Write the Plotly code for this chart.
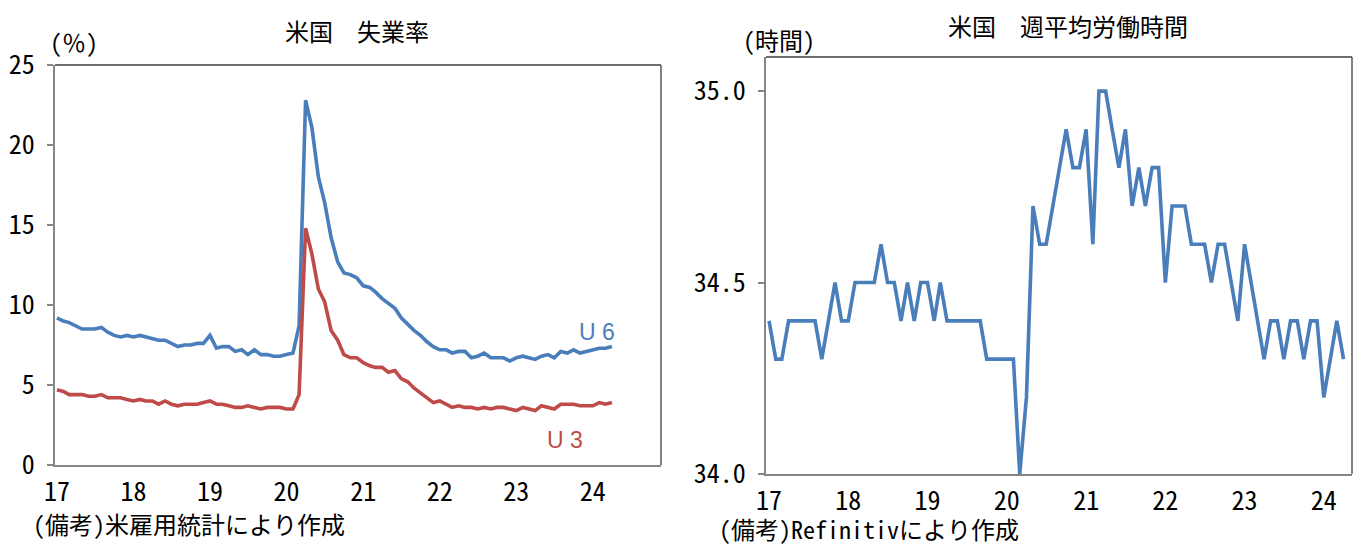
import pandas as pd
import plotly.graph_objects as go

# monthly, Jan 2017 - Apr 2024
months = pd.date_range("2017-01-01", periods=88, freq="MS")

u6 = [9.2, 9.0, 8.9, 8.7, 8.5, 8.5, 8.5, 8.6, 8.3, 8.1, 8.0, 8.1,
      8.0, 8.1, 8.0, 7.9, 7.8, 7.8, 7.6, 7.4, 7.5, 7.5, 7.6, 7.6,
      8.1, 7.3, 7.4, 7.4, 7.1, 7.2, 6.9, 7.2, 6.9, 6.9, 6.8, 6.8,
      6.9, 7.0, 8.7, 22.8, 21.1, 18.0, 16.4, 14.2, 12.7, 12.0, 11.9, 11.7,
      11.2, 11.1, 10.8, 10.4, 10.1, 9.8, 9.2, 8.8, 8.4, 8.1, 7.7, 7.4,
      7.2, 7.2, 7.0, 7.1, 7.1, 6.7, 6.8, 7.0, 6.7, 6.7, 6.7, 6.5,
      6.7, 6.8, 6.7, 6.6, 6.8, 6.9, 6.7, 7.1, 7.0, 7.2, 7.0, 7.1,
      7.2, 7.3, 7.3, 7.4]

u3 = [4.7, 4.6, 4.4, 4.4, 4.4, 4.3, 4.3, 4.4, 4.2, 4.2, 4.2, 4.1,
      4.0, 4.1, 4.0, 4.0, 3.8, 4.0, 3.8, 3.7, 3.8, 3.8, 3.8, 3.9,
      4.0, 3.8, 3.8, 3.7, 3.6, 3.6, 3.7, 3.6, 3.5, 3.6, 3.6, 3.6,
      3.5, 3.5, 4.4, 14.8, 13.2, 11.0, 10.2, 8.4, 7.8, 6.9, 6.7, 6.7,
      6.4, 6.2, 6.1, 6.1, 5.8, 5.9, 5.4, 5.2, 4.8, 4.5, 4.2, 3.9,
      4.0, 3.8, 3.6, 3.7, 3.6, 3.6, 3.5, 3.6, 3.5, 3.6, 3.6, 3.5,
      3.4, 3.6, 3.5, 3.4, 3.7, 3.6, 3.5, 3.8, 3.8, 3.8, 3.7, 3.7,
      3.7, 3.9, 3.8, 3.9]

hours = [34.4, 34.3, 34.3, 34.4, 34.4, 34.4, 34.4, 34.4, 34.3, 34.4, 34.5, 34.4,
         34.4, 34.5, 34.5, 34.5, 34.5, 34.6, 34.5, 34.5, 34.4, 34.5, 34.4, 34.5,
         34.5, 34.4, 34.5, 34.4, 34.4, 34.4, 34.4, 34.4, 34.4, 34.3, 34.3, 34.3,
         34.3, 34.3, 34.0, 34.2, 34.7, 34.6, 34.6, 34.7, 34.8, 34.9, 34.8, 34.8,
         34.9, 34.6, 35.0, 35.0, 34.9, 34.8, 34.9, 34.7, 34.8, 34.7, 34.8, 34.8,
         34.5, 34.7, 34.7, 34.7, 34.6, 34.6, 34.6, 34.5, 34.6, 34.6, 34.5, 34.4,
         34.6, 34.5, 34.4, 34.3, 34.4, 34.4, 34.3, 34.4, 34.4, 34.3, 34.4, 34.4,
         34.2, 34.3, 34.4, 34.3]

year_ticks = pd.date_range("2017-01-01", periods=8, freq="YS")
year_labels = ["17", "18", "19", "20", "21", "22", "23", "24"]

BLUE = "#4a7ebb"
RED = "#be4b48"
AXIS = "#868686"
JP = "Noto Sans Mono CJK JP, Noto Sans CJK JP, sans-serif"
NUM = "Noto Sans Mono CJK JP, DejaVu Sans Mono, monospace"

# page body keeps an 8px margin, so the figure is 8px smaller than the window
OFF = 8
W, H = 1366 - OFF, 546 - OFF
def fx(x):
    return (x - OFF) / W
def fy(y):
    return 1 - (y - OFF) / H

fig = go.Figure()
fig.add_trace(go.Scatter(x=months, y=u6, mode="lines", line=dict(color=BLUE, width=3.6),
                         xaxis="x", yaxis="y", showlegend=False))
fig.add_trace(go.Scatter(x=months, y=u3, mode="lines", line=dict(color=RED, width=3.6),
                         xaxis="x", yaxis="y", showlegend=False))
fig.add_trace(go.Scatter(x=months, y=hours, mode="lines", line=dict(color=BLUE, width=3.6),
                         xaxis="x2", yaxis="y2", showlegend=False))

xcommon = dict(tickvals=year_ticks, ticktext=year_labels, showgrid=False, zeroline=False,
               showline=True, linecolor=AXIS, linewidth=2, ticks="", automargin=False,
               tickfont=dict(family=NUM, size=26, color="#000"), ticklabelstandoff=3)
ycommon = dict(showgrid=False, zeroline=False, showline=True, linecolor=AXIS, linewidth=2,
               ticks="outside", ticklen=6, tickcolor=AXIS, tickwidth=2, automargin=False,
               tickfont=dict(family=NUM, size=26, color="#000"), ticklabelstandoff=7)

fig.update_layout(
    width=W, height=H,
    margin=dict(l=0, r=0, t=0, b=0),
    paper_bgcolor="white", plot_bgcolor="white",
    xaxis=dict(xcommon, domain=[fx(55), fx(661)], range=["2016-12-23", "2024-11-21"],
               anchor="y"),
    yaxis=dict(ycommon, domain=[fy(465), fy(65)], range=[0, 25], dtick=5, anchor="x"),
    xaxis2=dict(xcommon, domain=[fx(766), fx(1352)], range=["2016-12-18", "2024-05-10"],
                anchor="y2"),
    yaxis2=dict(ycommon, domain=[fy(474), fy(57)], range=[34.0, 35.089],
                tickvals=[34.0, 34.5, 35.0], ticktext=["34.0", "34.5", "35.0"], anchor="x2"),
)

# top / right frame of each plot area
for x0, x1, y0, y1 in [(55, 661, 65, 465), (766, 1352, 57, 474)]:
    fig.add_shape(type="line", xref="paper", yref="paper", x0=fx(x0), x1=fx(x1),
                  y0=fy(y0), y1=fy(y0), line=dict(color="#404040", width=1.3))
    fig.add_shape(type="line", xref="paper", yref="paper", x0=fx(x1), x1=fx(x1),
                  y0=fy(y0), y1=fy(y1), line=dict(color="#404040", width=1.3))

texts = [
    ("米国　失業率", 357, 30, "center"),
    ("(％)", 74, 41, "center"),
    ("(備考)米雇用統計により作成", 31, 523, "left"),
    ("米国　週平均労働時間", 1068, 25, "center"),
    ("(時間)", 779, 39, "center"),
    ("(備考)Refinitivにより作成", 717, 528, "left"),
]
for t, x, y, anc in texts:
    fig.add_annotation(text=t, x=fx(x), y=fy(y), xref="paper", yref="paper", showarrow=False,
                       xanchor=anc, yanchor="middle", font=dict(family=JP, size=24, color="#000"))

for t, x, y, col in [("U 6", 597, 332, BLUE), ("U 3", 565, 440, RED)]:
    fig.add_annotation(text=t, x=fx(x), y=fy(y), xref="paper", yref="paper", showarrow=False,
                       xanchor="center", yanchor="middle",
                       font=dict(family="Liberation Sans, Arial, sans-serif", size=23, color=col))

fig.write_html("out.html")
